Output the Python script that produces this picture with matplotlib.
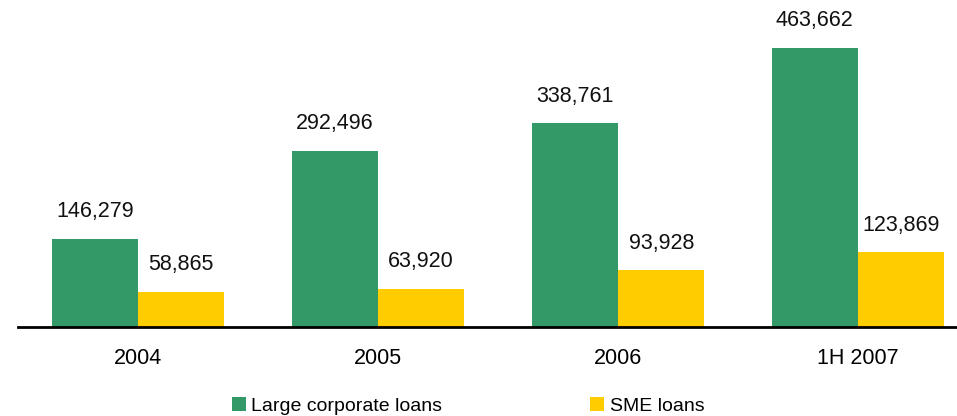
import matplotlib
matplotlib.use("Agg")
import matplotlib.pyplot as plt
import numpy as np

categories = ["2004", "2005", "2006", "1H 2007"]
large_corporate = [146279, 292496, 338761, 463662]
sme = [58865, 63920, 93928, 123869]
series_names = ["Large corporate loans", "SME loans"]
colors = ["#339966", "#FFCC00"]

plt.rcParams["font.family"] = ["Liberation Sans", "DejaVu Sans"]

W, H = 957, 416
fig = plt.figure(figsize=(W / 100, H / 100), dpi=100)
left_px, base_px = 18, 327
ax = fig.add_axes([left_px / W, (H - base_px) / H, 1 - left_px / W, base_px / H])

x = np.arange(len(categories))
bw = 0.36
b1 = ax.bar(x - bw / 2, large_corporate, bw, color=colors[0], label=series_names[0])
b2 = ax.bar(x + bw / 2, sme, bw, color=colors[1], label=series_names[1])

for bars, vals in ((b1, large_corporate), (b2, sme)):
    for rect, v in zip(bars, vals):
        ax.annotate(f"{v:,}", (rect.get_x() + rect.get_width() / 2, v),
                    xytext=(0, 12), textcoords="offset points",
                    ha="center", va="bottom", fontsize=15.5, color="#111111")

ax.set_xlim(-0.5, -0.5 + (W - left_px) / 240)
ax.set_ylim(0, 543500)
for s in ("top", "right", "left"):
    ax.spines[s].set_visible(False)
ax.spines["bottom"].set_linewidth(2)
ax.set_yticks([])
ax.set_xticks(x)
ax.set_xticklabels(categories, fontsize=15.5)
ax.tick_params(axis="x", length=0, pad=15)

fig.legend(handles=[b1, b2], loc="center left", bbox_to_anchor=(232 / W, 1 - 406 / H),
           ncol=2, frameon=False, fontsize=14, handlelength=0.7, handleheight=0.7,
           handletextpad=0.3, columnspacing=7.6, borderpad=0, borderaxespad=0)

fig.savefig("out.png", dpi=100)
